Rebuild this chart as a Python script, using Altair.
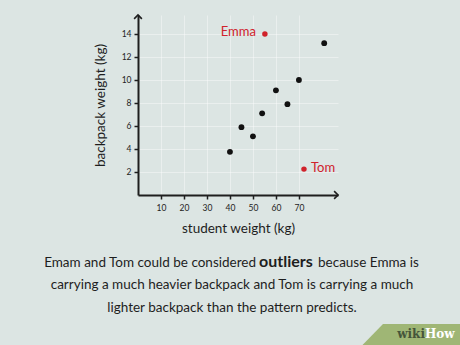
import altair as alt
import pandas as pd

# data
student_weight = [40, 45, 50, 54, 60, 65, 70, 81]
backpack_weight = [3.75, 5.9, 5.1, 7.1, 9.1, 7.9, 10.0, 13.2]
outlier_names = ["Emma", "Tom"]
outlier_student = [55.2, 72.2]
outlier_backpack = [14.0, 2.25]
x_ticks = [10, 20, 30, 40, 50, 60, 70]
y_ticks = [2, 4, 6, 8, 10, 12, 14]
x_max = 87
y_max = 15.65

caption_a = "Emam and Tom could be considered"
caption_b = "outliers"
caption_c = "because Emma is"
caption_2 = "carrying a much heavier backpack and Tom is carrying a much"
caption_3 = "lighter backpack than the pattern predicts."

FONT = "Lato"
INK = "#1e1e1e"
RED = "#d0222b"

pts = pd.DataFrame({"sw": student_weight, "bw": backpack_weight})
out = pd.DataFrame({"name": outlier_names, "sw": outlier_student, "bw": outlier_backpack})

xs = alt.Scale(domain=[0, x_max], nice=False, zero=True)
ys = alt.Scale(domain=[0, y_max], nice=False, zero=True)

xaxis = alt.Axis(values=x_ticks, title="student weight (kg)", domainColor=INK, domainWidth=2,
                 tickColor=INK, tickWidth=1.5, tickSize=4, labelFont=FONT, labelFontSize=8.5,
                 labelColor=INK, labelPadding=4, labelOverlap=False, titleFont=FONT,
                 titleFontSize=13.5, titleFontWeight="normal", titleColor=INK, titlePadding=10,
                 grid=True, gridColor="#ffffff", gridOpacity=0.4, gridWidth=1)
yaxis = alt.Axis(values=y_ticks, title="backpack weight (kg)", domainColor=INK, domainWidth=2,
                 tickColor=INK, tickWidth=1.5, tickSize=4, labelFont=FONT, labelFontSize=8.5,
                 labelColor=INK, labelPadding=3, labelOverlap=False, titleFont=FONT,
                 titleFontSize=13.5, titleFontWeight="normal", titleColor=INK, titlePadding=14,
                 grid=True, gridColor="#ffffff", gridOpacity=0.4, gridWidth=1)

X = alt.X("sw:Q", scale=xs, axis=xaxis)
Y = alt.Y("bw:Q", scale=ys, axis=yaxis)

base_points = alt.Chart(pts).mark_circle(size=34, color="#111111", opacity=1).encode(x=X, y=Y)

red_points = alt.Chart(out).mark_circle(size=30, color=RED, opacity=1).encode(x=X, y=Y)

emma = alt.Chart(out[out.name == "Emma"]).mark_text(
    align="right", baseline="middle", dx=-9, dy=-2, font=FONT, fontSize=13, color=RED
).encode(x=X, y=Y, text="name:N")

tom = alt.Chart(out[out.name == "Tom"]).mark_text(
    align="left", baseline="middle", dx=7, dy=-1, font=FONT, fontSize=13, color=RED
).encode(x=X, y=Y, text="name:N")

# axis arrowheads at the ends of the axes
arrow_x = alt.Chart(pd.DataFrame({"sw": [x_max], "bw": [0]})).mark_point(
    shape="M-1,-1L0,0L-1,1", size=60, filled=False, color=INK, strokeWidth=1.6, opacity=1
).encode(x=X, y=Y)
arrow_y = alt.Chart(pd.DataFrame({"sw": [0], "bw": [y_max]})).mark_point(
    shape="M-1,1L0,0L1,1", size=60, filled=False, color=INK, strokeWidth=1.6, opacity=1
).encode(x=X, y=Y)

cap_a = alt.Chart(pd.DataFrame({"t": [caption_a]})).mark_text(
    align="right", baseline="middle", font=FONT, fontSize=13.5, color=INK
).encode(x=alt.value(118), y=alt.value(248), text="t:N")
cap_b = alt.Chart(pd.DataFrame({"t": [caption_b]})).mark_text(
    align="left", baseline="middle", font=FONT, fontSize=16, fontWeight="bold", color=INK
).encode(x=alt.value(121), y=alt.value(247), text="t:N")
cap_c = alt.Chart(pd.DataFrame({"t": [caption_c]})).mark_text(
    align="left", baseline="middle", font=FONT, fontSize=13.5, color=INK
).encode(x=alt.value(180), y=alt.value(248), text="t:N")
cap_2 = alt.Chart(pd.DataFrame({"t": [caption_2]})).mark_text(
    align="center", baseline="middle", font=FONT, fontSize=13.5, color=INK
).encode(x=alt.value(94), y=alt.value(270), text="t:N")
cap_3 = alt.Chart(pd.DataFrame({"t": [caption_3]})).mark_text(
    align="center", baseline="middle", font=FONT, fontSize=13.5, color=INK
).encode(x=alt.value(94), y=alt.value(293), text="t:N")

# wikiHow badge
badge = alt.Chart(pd.DataFrame({"k": [1]})).mark_point(
    shape="M-0.56,-0.21L1,-0.21L1,0.22L-0.98,0.22Z", size=10000, filled=True,
    color="#9fb675", opacity=1, strokeWidth=0
).encode(x=alt.value(273), y=alt.value(319.5))
wiki = alt.Chart(pd.DataFrame({"t": ["wiki"]})).mark_text(
    align="right", baseline="middle", font="DejaVu Serif", fontSize=12, fontWeight="bold",
    color="#45553a"
).encode(x=alt.value(287), y=alt.value(319), text="t:N")
how = alt.Chart(pd.DataFrame({"t": ["How"]})).mark_text(
    align="left", baseline="middle", font="DejaVu Serif", fontSize=12, fontWeight="bold",
    color="#ffffff"
).encode(x=alt.value(287), y=alt.value(319), text="t:N")

chart = alt.layer(
    base_points, red_points, emma, tom, arrow_x, arrow_y,
    cap_a, cap_b, cap_c, cap_2, cap_3, badge, wiki, how
).properties(
    width=200, height=180,
    autosize=alt.AutoSizeParams(type="none"),
    padding={"left": 138, "top": 15, "right": 122, "bottom": 150},
    background="#dce5e3",
).configure_view(stroke=None).configure_axis(labelOverlap=False, labelFlush=False)

chart.save("out.html", embed_options={"renderer": "svg", "actions": False})
